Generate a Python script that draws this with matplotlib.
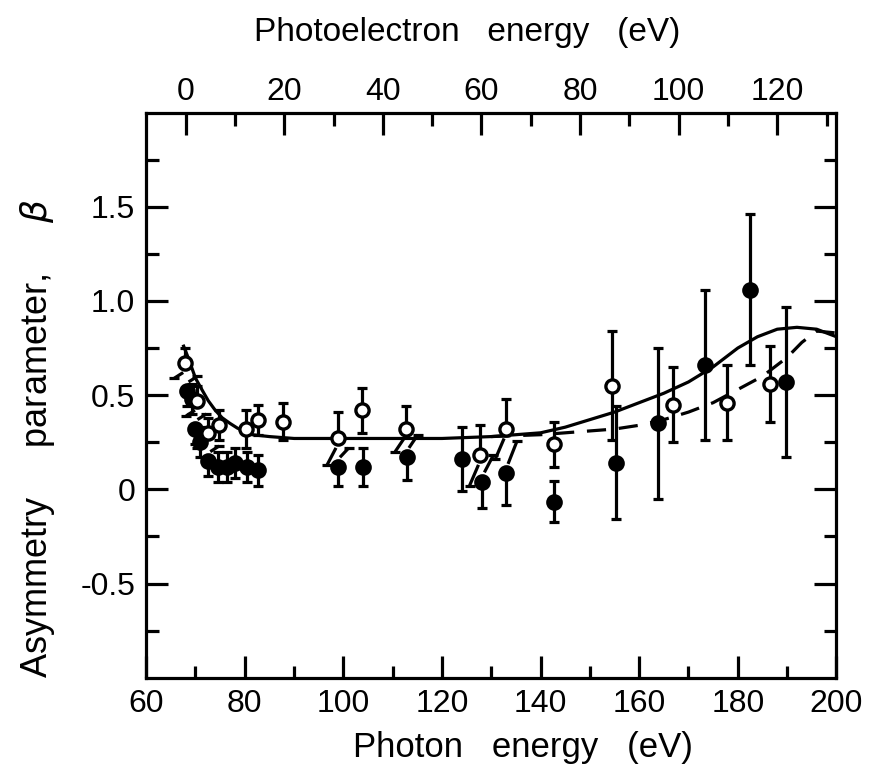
import numpy as np
import matplotlib
matplotlib.use("Agg")
import matplotlib.pyplot as plt
from matplotlib.ticker import MultipleLocator, FixedLocator

# Xe 4d asymmetry parameter
# open circles
open_x = [67.9, 70.3, 72.6, 74.8, 80.3, 82.7, 87.8, 98.9, 103.8, 112.7,
          127.8, 133.0, 142.8, 154.5, 166.9, 177.8, 186.6]
open_y = [0.67, 0.47, 0.30, 0.34, 0.32, 0.37, 0.36, 0.27, 0.42, 0.32,
          0.18, 0.32, 0.24, 0.55, 0.45, 0.46, 0.56]
open_err = [0.08, 0.08, 0.08, 0.08, 0.10, 0.08, 0.10, 0.14, 0.12, 0.12,
            0.16, 0.16, 0.12, 0.29, 0.20, 0.20, 0.20]

# filled circles
filled_x = [68.2, 69.3, 70.0, 71.0, 72.6, 74.6, 76.4, 78.1, 80.5, 82.7,
            98.9, 104.0, 112.9, 124.1, 128.2, 133.0, 142.8, 155.3, 163.9,
            173.4, 182.5, 189.8]
filled_y = [0.52, 0.48, 0.32, 0.25, 0.15, 0.12, 0.12, 0.14, 0.12, 0.10,
            0.12, 0.12, 0.17, 0.16, 0.04, 0.085, -0.065, 0.14, 0.35,
            0.66, 1.06, 0.57]
filled_err = [0.08, 0.08, 0.08, 0.08, 0.08, 0.08, 0.08, 0.08, 0.08, 0.08,
              0.10, 0.10, 0.12, 0.17, 0.14, 0.17, 0.11, 0.30, 0.40,
              0.40, 0.40, 0.40]

# theory curves
solid_x = [67.6, 68.5, 70.0, 71.5, 72.6, 74.0, 75.4, 77.0, 78.5, 81.5,
           85.0, 90.0, 100.0, 110.0, 120.0, 130.0, 135.0, 140.0, 145.0,
           150.0, 155.0, 160.0, 165.0, 170.0, 175.0, 180.0, 184.0, 188.0,
           192.0, 196.0, 200.0]
solid_y = [0.76, 0.70, 0.59, 0.52, 0.47, 0.42, 0.38, 0.35, 0.325, 0.29,
           0.28, 0.27, 0.27, 0.27, 0.27, 0.28, 0.29, 0.30, 0.33,
           0.37, 0.41, 0.46, 0.51, 0.57, 0.65, 0.75, 0.81, 0.85,
           0.86, 0.85, 0.81]
dashed_x = [130.0, 135.0, 140.0, 145.0, 150.0, 155.0, 160.0, 165.0,
            170.0, 175.0, 180.0, 185.0, 190.0, 193.0, 196.0, 200.0]
dashed_y = [0.28, 0.285, 0.29, 0.30, 0.31, 0.32, 0.34, 0.37,
            0.41, 0.46, 0.53, 0.60, 0.70, 0.78, 0.84, 0.83]

# tick values
photon_ticks = [60, 80, 100, 120, 140, 160, 180, 200]
electron_ticks = [0, 20, 40, 60, 80, 100, 120]
electron_minor = [10, 30, 50, 70, 90, 110, 130]
beta_ticks = [-0.5, 0, 0.5, 1.0, 1.5]
beta_labels = ['-0.5', '0', '0.5', '1.0', '1.5']
beta_minor = [-0.75, -0.25, 0.25, 0.75, 1.25, 1.75]

binding = 68.0  # photon energy at zero photoelectron energy

plt.rcParams['font.family'] = ['Liberation Sans', 'DejaVu Sans']
plt.rcParams['mathtext.fontset'] = 'dejavusans'

fig = plt.figure(figsize=(8.86, 7.71), dpi=100)
ax = fig.add_axes([0.165, 0.121, 0.779, 0.733])

lw = 2.3


def draw_bar(x, y0, y1, lean=0.0):
    # one half of an error bar, optionally leaning sideways
    ax.plot([x, x + lean], [y0, y1], color='k', lw=lw, zorder=2,
            solid_capstyle='butt')
    ax.plot(x + lean, y1, marker='_', ms=7, mew=2.3, color='k', zorder=2)


# error bars; overlapping open/filled pairs get leaning halves
for xo, yo, eo in zip(open_x, open_y, open_err):
    lean = 0.0
    for xf, yf, ef in zip(filled_x, filled_y, filled_err):
        if abs(xf - xo) < 0.8 and yf + ef > yo - eo and yf < yo:
            lean = -1.8
    draw_bar(xo, yo, yo + eo)
    draw_bar(xo - 0.4 * (lean != 0), yo - 0.05 if lean else yo, yo - eo,
             lean)

for xf, yf, ef in zip(filled_x, filled_y, filled_err):
    lean = 0.0
    for xo, yo, eo in zip(open_x, open_y, open_err):
        if abs(xf - xo) < 0.8 and yf + ef > yo - eo and yf < yo:
            lean = 1.8
    draw_bar(xf, yf, yf - ef)
    draw_bar(xf + 0.4 * (lean != 0), yf + 0.05 if lean else yf, yf + ef,
             lean)

ax.plot(solid_x, solid_y, color='k', lw=lw, zorder=1)
ax.plot(dashed_x, dashed_y, color='k', lw=lw, ls=(0, (6, 4)), zorder=1)

ax.plot(filled_x, filled_y, 'o', ms=10, mfc='k', mec='k', mew=2, zorder=3)
ax.plot(open_x, open_y, 'o', ms=9.5, mfc='white', mec='k', mew=2.4,
        zorder=4)

ax.set_xlim(60, 200)
ax.set_ylim(-1.0, 2.0)
ax.xaxis.set_major_locator(FixedLocator(photon_ticks))
ax.xaxis.set_minor_locator(MultipleLocator(10))
ax.yaxis.set_major_locator(FixedLocator(beta_ticks))
ax.yaxis.set_minor_locator(FixedLocator(beta_minor))
ax.set_yticklabels(beta_labels)

for s in ax.spines.values():
    s.set_linewidth(2.3)

ax.tick_params(which='both', direction='in', width=2.3, labelsize=23,
               top=False, right=True)
ax.tick_params(which='major', length=16, pad=8)
ax.tick_params(which='minor', length=9)

top = ax.secondary_xaxis('top', functions=(lambda e: e - binding,
                                           lambda e: e + binding))
top.xaxis.set_major_locator(FixedLocator(electron_ticks))
top.xaxis.set_minor_locator(FixedLocator(electron_minor))
top.tick_params(which='both', direction='in', width=2.3, labelsize=23,
                pad=4)
top.tick_params(which='major', length=16)
top.tick_params(which='minor', length=9)

# axis titles placed as in the scan
fig.text(467 / 886, 1 - 32 / 771, 'Photoelectron   energy   (eV)',
         fontsize=24, ha='center', va='center')
fig.text(523 / 886, 1 - 748 / 771, 'Photon   energy   (eV)',
         fontsize=25, ha='center', va='center')
fig.text(38 / 886, 1 - 438 / 771,
         'Asymmetry     parameter,     $\\beta$',
         fontsize=26, ha='center', va='center', rotation=90)

fig.savefig('out.png', dpi=100)
